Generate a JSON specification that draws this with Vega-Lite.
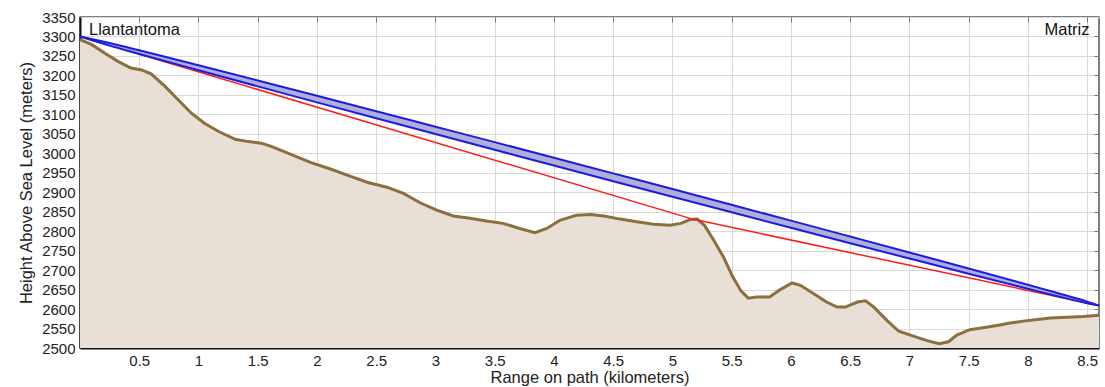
{
  "$schema": "https://vega.github.io/schema/vega-lite/v6.json",
  "width": 1019,
  "height": 331,
  "padding": {"left": 80, "top": 17, "right": 6, "bottom": 39},
  "autosize": {"type": "none"},
  "background": "white",
  "config": {
    "font": "Liberation Sans",
    "view": {"stroke": "#555555", "strokeWidth": 1.5},
    "axis": {
      "labelFont": "Liberation Sans",
      "titleFont": "Liberation Sans",
      "labelFontSize": 15,
      "titleFontSize": 16.5,
      "titleFontWeight": "normal",
      "labelColor": "#222222",
      "titleColor": "#222222",
      "gridColor": "#d9d9d9",
      "gridWidth": 1,
      "labelOverlap": false
    }
  },
  "resolve": {"axis": {"x": "independent", "y": "independent"}},
  "datasets": {
    "terrain": [
      {"km": 0.0, "h": 3292}, {"km": 0.1, "h": 3279}, {"km": 0.21, "h": 3257}, {"km": 0.32, "h": 3236},
      {"km": 0.43, "h": 3219}, {"km": 0.52, "h": 3214}, {"km": 0.6, "h": 3204}, {"km": 0.72, "h": 3171},
      {"km": 0.83, "h": 3137}, {"km": 0.94, "h": 3103}, {"km": 1.05, "h": 3077}, {"km": 1.17, "h": 3056},
      {"km": 1.31, "h": 3036}, {"km": 1.42, "h": 3030}, {"km": 1.53, "h": 3026}, {"km": 1.62, "h": 3017},
      {"km": 1.79, "h": 2996}, {"km": 1.95, "h": 2976}, {"km": 2.12, "h": 2959}, {"km": 2.29, "h": 2940},
      {"km": 2.43, "h": 2925}, {"km": 2.59, "h": 2913}, {"km": 2.73, "h": 2897}, {"km": 2.87, "h": 2873},
      {"km": 3.01, "h": 2854}, {"km": 3.15, "h": 2839}, {"km": 3.29, "h": 2833}, {"km": 3.43, "h": 2826},
      {"km": 3.57, "h": 2820}, {"km": 3.71, "h": 2807}, {"km": 3.84, "h": 2796}, {"km": 3.94, "h": 2807},
      {"km": 4.05, "h": 2828}, {"km": 4.19, "h": 2841}, {"km": 4.31, "h": 2843}, {"km": 4.42, "h": 2839},
      {"km": 4.56, "h": 2831}, {"km": 4.7, "h": 2824}, {"km": 4.84, "h": 2818}, {"km": 4.98, "h": 2815},
      {"km": 5.07, "h": 2820}, {"km": 5.15, "h": 2830}, {"km": 5.21, "h": 2831}, {"km": 5.27, "h": 2815},
      {"km": 5.34, "h": 2781}, {"km": 5.43, "h": 2734}, {"km": 5.51, "h": 2682}, {"km": 5.58, "h": 2646},
      {"km": 5.64, "h": 2628}, {"km": 5.71, "h": 2631}, {"km": 5.82, "h": 2631}, {"km": 5.91, "h": 2650},
      {"km": 6.01, "h": 2667}, {"km": 6.08, "h": 2661}, {"km": 6.19, "h": 2640}, {"km": 6.3, "h": 2618},
      {"km": 6.39, "h": 2605}, {"km": 6.46, "h": 2605}, {"km": 6.56, "h": 2618}, {"km": 6.63, "h": 2621},
      {"km": 6.7, "h": 2605}, {"km": 6.81, "h": 2571}, {"km": 6.91, "h": 2543}, {"km": 7.04, "h": 2530},
      {"km": 7.15, "h": 2519}, {"km": 7.25, "h": 2511}, {"km": 7.33, "h": 2516}, {"km": 7.4, "h": 2533},
      {"km": 7.46, "h": 2541}, {"km": 7.51, "h": 2547}, {"km": 7.62, "h": 2552}, {"km": 7.74, "h": 2558},
      {"km": 7.85, "h": 2564}, {"km": 7.96, "h": 2569}, {"km": 8.08, "h": 2573}, {"km": 8.19, "h": 2577},
      {"km": 8.33, "h": 2579}, {"km": 8.47, "h": 2581}, {"km": 8.6, "h": 2584}
    ],
    "zone": [
      {"km": 0, "up": 3300, "lo": 3300}, {"km": 0.25, "up": 3283.3, "lo": 3276.5},
      {"km": 0.5, "up": 3264.5, "lo": 3255.1}, {"km": 1, "up": 3226.1, "lo": 3213.3},
      {"km": 1.5, "up": 3187.1, "lo": 3171.9}, {"km": 2, "up": 3147.8, "lo": 3130.8},
      {"km": 2.5, "up": 3108.2, "lo": 3090.0}, {"km": 3, "up": 3068.4, "lo": 3049.4},
      {"km": 3.5, "up": 3028.6, "lo": 3009.0}, {"km": 4, "up": 2988.6, "lo": 2968.6},
      {"km": 4.5, "up": 2948.4, "lo": 2928.4}, {"km": 5, "up": 2908.2, "lo": 2888.4},
      {"km": 5.5, "up": 2867.7, "lo": 2848.5}, {"km": 6, "up": 2827.1, "lo": 2808.7},
      {"km": 6.5, "up": 2786.3, "lo": 2769.1}, {"km": 7, "up": 2745.4, "lo": 2729.8},
      {"km": 7.5, "up": 2704.1, "lo": 2690.7}, {"km": 8, "up": 2662.3, "lo": 2652.1},
      {"km": 8.25, "up": 2641.1, "lo": 2633.1}, {"km": 8.5, "up": 2619.1, "lo": 2614.9},
      {"km": 8.6, "up": 2609, "lo": 2609}
    ],
    "red": [
      {"km": 0, "h": 3300}, {"km": 5.17, "h": 2831}, {"km": 8.6, "h": 2609}
    ],
    "left": [{"km": 0.076, "h": 3317, "name": "Llantantoma"}],
    "right": [{"km": 8.52, "h": 3317, "name": "Matriz"}]
  },
  "layer": [
    {
      "data": {"name": "terrain"},
      "mark": {"type": "area", "color": "#e8e0d6", "clip": true},
      "encoding": {
        "x": {"field": "km", "type": "quantitative",
              "scale": {"domain": [0, 8.6], "nice": false, "zero": false},
              "axis": {"values": [0.5, 1, 1.5, 2, 2.5, 3, 3.5, 4, 4.5, 5, 5.5, 6, 6.5, 7, 7.5, 8, 8.5],
                       "format": "~g", "orient": "bottom", "grid": true,
                       "title": "Range on path (kilometers)", "ticks": false, "labelPadding": 5,
                       "titlePadding": 1, "domainColor": "#111111", "domainWidth": 2,
                       "labelFlush": false, "labelOverlap": false}},
        "y": {"field": "h", "type": "quantitative",
              "scale": {"domain": [2500, 3350], "nice": false, "zero": false},
              "axis": {"values": [2500, 2550, 2600, 2650, 2700, 2750, 2800, 2850, 2900, 2950, 3000, 3050, 3100, 3150, 3200, 3250, 3300, 3350],
                       "format": "d", "orient": "left", "grid": true,
                       "title": "Height Above Sea Level (meters)", "ticks": false, "labelPadding": 5,
                       "titlePadding": 7, "domainColor": "#111111", "domainWidth": 2,
                       "labelFlush": false, "labelOverlap": false}},
        "y2": {"datum": 2500}
      }
    },
    {
      "data": {"name": "terrain"},
      "mark": {"type": "line", "color": "#8b6f3e", "strokeWidth": 3, "clip": true},
      "encoding": {
        "x": {"field": "km", "type": "quantitative", "axis": null},
        "y": {"field": "h", "type": "quantitative", "axis": null}
      }
    },
    {
      "data": {"name": "red"},
      "mark": {"type": "line", "color": "#ff1a1a", "strokeWidth": 1.5},
      "encoding": {
        "x": {"field": "km", "type": "quantitative", "axis": null},
        "y": {"field": "h", "type": "quantitative", "axis": null}
      }
    },
    {
      "data": {"name": "zone"},
      "mark": {"type": "area", "color": "#aeb0da", "interpolate": "monotone"},
      "encoding": {
        "x": {"field": "km", "type": "quantitative", "axis": null},
        "y": {"field": "up", "type": "quantitative", "axis": null},
        "y2": {"field": "lo"}
      }
    },
    {
      "data": {"name": "zone"},
      "mark": {"type": "line", "color": "#1c1ce0", "strokeWidth": 2, "interpolate": "monotone"},
      "encoding": {
        "x": {"field": "km", "type": "quantitative", "axis": null},
        "y": {"field": "up", "type": "quantitative", "axis": null}
      }
    },
    {
      "data": {"name": "zone"},
      "mark": {"type": "line", "color": "#1c1ce0", "strokeWidth": 2, "interpolate": "monotone"},
      "encoding": {
        "x": {"field": "km", "type": "quantitative", "axis": null},
        "y": {"field": "lo", "type": "quantitative", "axis": null}
      }
    },
    {
      "data": {"name": "left"},
      "mark": {"type": "text", "fontSize": 16.5, "font": "Liberation Sans", "color": "#111111", "baseline": "middle", "align": "left"},
      "encoding": {
        "x": {"field": "km", "type": "quantitative",
              "axis": {"orient": "top", "values": [0.5, 1, 1.5, 2, 2.5, 3, 3.5, 4, 4.5, 5, 5.5, 6, 6.5, 7, 7.5, 8, 8.5],
                       "labels": false, "title": null, "grid": false, "domain": false, "offset": -5,
                       "ticks": true, "tickSize": 5, "tickColor": "#777777"}},
        "y": {"field": "h", "type": "quantitative",
              "axis": {"orient": "right", "values": [2550, 2600, 2650, 2700, 2750, 2800, 2850, 2900, 2950, 3000, 3050, 3100, 3150, 3200, 3250, 3300],
                       "labels": false, "title": null, "grid": false, "domain": false, "offset": -5,
                       "ticks": true, "tickSize": 5, "tickColor": "#777777"}},
        "text": {"field": "name"}
      }
    },
    {
      "data": {"name": "right"},
      "mark": {"type": "text", "fontSize": 16.5, "font": "Liberation Sans", "color": "#111111", "baseline": "middle", "align": "right"},
      "encoding": {
        "x": {"field": "km", "type": "quantitative", "axis": null},
        "y": {"field": "h", "type": "quantitative", "axis": null},
        "text": {"field": "name"}
      }
    }
  ]
}
